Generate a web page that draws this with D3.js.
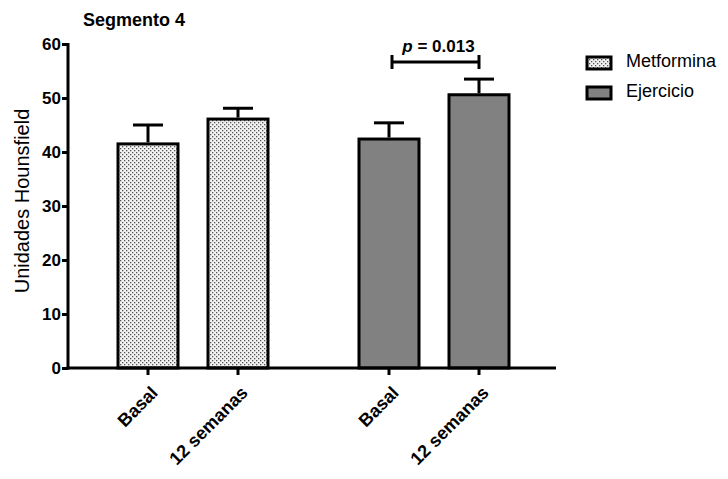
<!DOCTYPE html>
<html>
<head>
<meta charset="utf-8">
<script src="https://cdn.jsdelivr.net/npm/d3@7"></script>
<style>
  html, body { margin: 0; padding: 0; background: #fff; }
  svg { display: block; font-family: Arial, "Liberation Sans", Helvetica, sans-serif; }
</style>
</head>
<body>
<svg id="chart" width="728" height="479"></svg>
<script>
// Bar chart: Hounsfield units, segment 4, by group and time point
const groups = ["Metformina", "Ejercicio"];
const barKeys = ["Metformina-Basal", "Metformina-12", "Ejercicio-Basal", "Ejercicio-12"];
const barGroups = ["Metformina", "Metformina", "Ejercicio", "Ejercicio"];
const barLabels = ["Basal", "12 semanas", "Basal", "12 semanas"];
const means = [41.5, 46.1, 42.4, 50.6];
const errors = [3.5, 2.0, 3.0, 2.9];
const yTicks = [0, 10, 20, 30, 40, 50, 60];
const pLabel = "0.013";

const svg = d3.select("#chart");

// Dotted fill for Metformina
const defs = svg.append("defs");
const pat = defs.append("pattern")
  .attr("id", "dots").attr("patternUnits", "userSpaceOnUse")
  .attr("width", 4).attr("height", 4);
pat.append("rect").attr("width", 4).attr("height", 4).attr("fill", "#f2f2f2");
pat.append("rect").attr("x", 0).attr("y", 0).attr("width", 1.3).attr("height", 1.3).attr("fill", "#555");
pat.append("rect").attr("x", 2).attr("y", 2).attr("width", 1.3).attr("height", 1.3).attr("fill", "#555");

const fills = { "Metformina": "url(#dots)", "Ejercicio": "#818181" };

const x0 = 68, x1 = 556;
const y = d3.scaleLinear().domain([0, 60]).range([368, 44]);

// bar centres: two pairs with a wide gap between the groups
const xc = d3.scaleOrdinal().domain(barKeys).range([148, 238, 389, 479]);
const barW = 60;

const g = svg.append("g");

// bars
g.selectAll("rect.bar").data(barKeys).join("rect")
  .attr("class", "bar")
  .attr("x", (d) => xc(d) - barW / 2)
  .attr("y", (d, i) => y(means[i]))
  .attr("width", barW)
  .attr("height", (d, i) => y(0) - y(means[i]))
  .attr("fill", (d, i) => fills[barGroups[i]])
  .attr("stroke", "#000").attr("stroke-width", 3);

// error bars (upper only)
g.selectAll("line.err").data(barKeys).join("line")
  .attr("x1", d => xc(d)).attr("x2", d => xc(d))
  .attr("y1", (d, i) => y(means[i]) - 1.5)
  .attr("y2", (d, i) => y(means[i] + errors[i]))
  .attr("stroke", "#000").attr("stroke-width", 3);
g.selectAll("line.cap").data(barKeys).join("line")
  .attr("x1", d => xc(d) - 15).attr("x2", d => xc(d) + 15)
  .attr("y1", (d, i) => y(means[i] + errors[i]))
  .attr("y2", (d, i) => y(means[i] + errors[i]))
  .attr("stroke", "#000").attr("stroke-width", 3);

// y axis
const yAxis = g.append("g").attr("transform", `translate(${x0},0)`)
  .call(d3.axisLeft(y).tickValues(yTicks).tickSize(6).tickPadding(1).tickSizeOuter(0));
yAxis.select(".domain").attr("stroke", "#000").attr("stroke-width", 3)
  .attr("d", `M0,${y(60) - 1}V${y(0) + 1.5}`);
yAxis.selectAll(".tick line").attr("stroke", "#000").attr("stroke-width", 3);
yAxis.selectAll(".tick text").attr("fill", "#000")
  .style("font-family", "Arial, 'Liberation Sans', sans-serif")
  .style("font-size", "17px").style("font-weight", "bold");

// x axis line
g.append("line").attr("x1", x0 - 1.5).attr("x2", x1)
  .attr("y1", y(0)).attr("y2", y(0))
  .attr("stroke", "#000").attr("stroke-width", 3);
// x ticks
g.selectAll("line.xt").data(barKeys).join("line")
  .attr("x1", d => xc(d)).attr("x2", d => xc(d))
  .attr("y1", y(0)).attr("y2", y(0) + 7)
  .attr("stroke", "#000").attr("stroke-width", 3);
// x labels, rotated
g.selectAll("text.xl").data(barKeys).join("text")
  .attr("transform", d => `translate(${xc(d) + 2},${y(0) + 17}) rotate(-45)`)
  .attr("text-anchor", "end")
  .attr("dy", "0.7em")
  .style("font-size", "18px").style("font-weight", "bold")
  .text((d, i) => barLabels[i]);

// y label
svg.append("text")
  .attr("transform", `translate(29,201) rotate(-90)`)
  .attr("text-anchor", "middle")
  .style("font-size", "20px")
  .text("Unidades Hounsfield");

// title
svg.append("text").attr("x", 83).attr("y", 26)
  .style("font-size", "18px").style("font-weight", "bold")
  .text("Segmento 4");

// significance bracket
const bx1 = xc("Ejercicio-Basal") + 3, bx2 = xc("Ejercicio-12");
const by = 62;
const br = svg.append("g").attr("stroke", "#000").attr("stroke-width", 3);
br.append("line").attr("x1", bx1).attr("x2", bx2).attr("y1", by).attr("y2", by);
br.append("line").attr("x1", bx1).attr("x2", bx1).attr("y1", by - 7).attr("y2", by + 7);
br.append("line").attr("x1", bx2).attr("x2", bx2).attr("y1", by - 7).attr("y2", by + 7);
const pt = svg.append("text").attr("x", (bx1 + bx2) / 2 + 3).attr("y", 52)
  .attr("text-anchor", "middle")
  .style("font-size", "17px").style("font-weight", "bold");
pt.append("tspan").style("font-style", "italic").text("p");
pt.append("tspan").text(" = " + pLabel);

// legend
const lg = svg.append("g").attr("transform", "translate(587,57)");
groups.forEach((grp, i) => {
  const row = lg.append("g").attr("transform", `translate(0,${i * 30})`);
  row.append("rect").attr("x", 0).attr("y", 0).attr("width", 24).attr("height", 12)
    .attr("fill", fills[grp]).attr("stroke", "#000").attr("stroke-width", 3);
  row.append("text").attr("x", 39).attr("y", 10)
    .style("font-size", "18px").text(grp);
});
</script>
</body>
</html>
